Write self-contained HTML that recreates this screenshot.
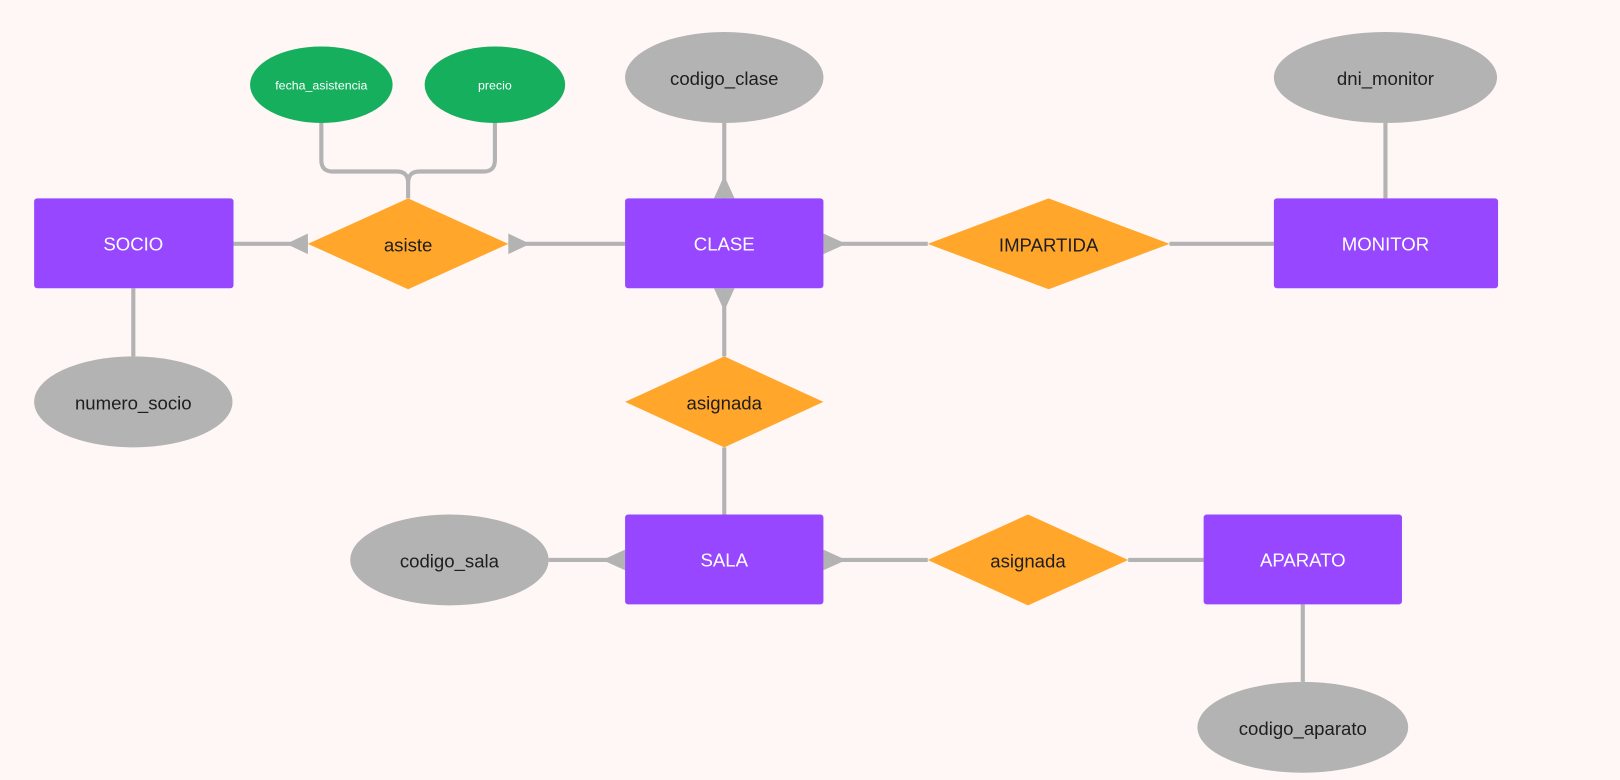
<!DOCTYPE html>
<html><head><meta charset="utf-8"><style>
html,body{margin:0;padding:0;background:#fff7f5;}
svg{display:block}
text{font-family:"Liberation Sans",sans-serif;text-anchor:middle;dominant-baseline:central}
</style></head><body>
<svg width="1620" height="780" viewBox="0 0 1568 755" xmlns="http://www.w3.org/2000/svg">
<rect width="1568" height="755" fill="#fff7f5"/>
<g stroke="#b3b3b3" stroke-width="4" fill="none">
<path d="M311 119 V155 Q311 166 322 166 H384 Q395 166 395 177 V192"/>
<path d="M479 119 V155 Q479 166 468 166 H406 Q395 166 395 177"/>
<line x1="226" y1="236" x2="298" y2="236"/>
<line x1="492" y1="236" x2="605" y2="236"/>
<line x1="701" y1="119" x2="701" y2="192"/>
<line x1="701" y1="279" x2="701" y2="345"/>
<line x1="701" y1="433" x2="701" y2="498"/>
<line x1="797" y1="236" x2="898" y2="236"/>
<line x1="1132" y1="236" x2="1233" y2="236"/>
<line x1="1341" y1="119" x2="1341" y2="192"/>
<line x1="129" y1="279" x2="129" y2="345"/>
<line x1="531" y1="542" x2="605" y2="542"/>
<line x1="797" y1="542" x2="898" y2="542"/>
<line x1="1092" y1="542" x2="1165" y2="542"/>
<line x1="1261" y1="585" x2="1261" y2="660"/>
</g>
<g fill="#b3b3b3">
<polygon points="298,226 298,246 277,236"/>
<polygon points="492,226 492,246 513,236"/>
<polygon points="691,192 711,192 701,170"/>
<polygon points="691,279 711,279 701,301"/>
<polygon points="797,226 797,246 819,236"/>
<polygon points="605,532 605,552 583,542"/>
<polygon points="797,532 797,552 819,542"/>
</g>
<g fill="#b3b3b3">
<ellipse cx="701" cy="75" rx="96" ry="44"/>
<ellipse cx="1341" cy="75" rx="108" ry="44"/>
<ellipse cx="129" cy="389" rx="96" ry="44"/>
<ellipse cx="435" cy="542" rx="96" ry="44"/>
<ellipse cx="1261" cy="704" rx="102" ry="44"/>
</g>
<g fill="#16af5e">
<ellipse cx="311" cy="82" rx="69" ry="37"/>
<ellipse cx="479" cy="82" rx="68" ry="37"/>
</g>
<g fill="#9747ff">
<rect x="33" y="192" width="193" height="87" rx="3"/>
<rect x="605" y="192" width="192" height="87" rx="3"/>
<rect x="1233" y="192" width="217" height="87" rx="3"/>
<rect x="605" y="498" width="192" height="87" rx="3"/>
<rect x="1165" y="498" width="192" height="87" rx="3"/>
</g>
<g fill="#ffa62b">
<polygon points="395,192 492,236 395,280 298,236"/>
<polygon points="1015,192 1132,236 1015,280 898,236"/>
<polygon points="701,345 797,389 701,433 605,389"/>
<polygon points="995,498 1092,542 995,586 898,542"/>
</g>
<g font-size="18" fill="#fff">
<text x="129" y="236">SOCIO</text>
<text x="701" y="236">CLASE</text>
<text x="1341" y="236">MONITOR</text>
<text x="701" y="542">SALA</text>
<text x="1261" y="542">APARATO</text>
</g>
<g font-size="18" fill="#1e1e1e">
<text x="395" y="237">asiste</text>
<text x="1015" y="237">IMPARTIDA</text>
<text x="701" y="390">asignada</text>
<text x="995" y="543">asignada</text>
<text x="701" y="76">codigo_clase</text>
<text x="1341" y="76">dni_monitor</text>
<text x="129" y="390">numero_socio</text>
<text x="435" y="543">codigo_sala</text>
<text x="1261" y="705">codigo_aparato</text>
</g>
<g font-size="12" fill="#fff">
<text x="311" y="83">fecha_asistencia</text>
<text x="479" y="83">precio</text>
</g>
</svg>
</body></html>
